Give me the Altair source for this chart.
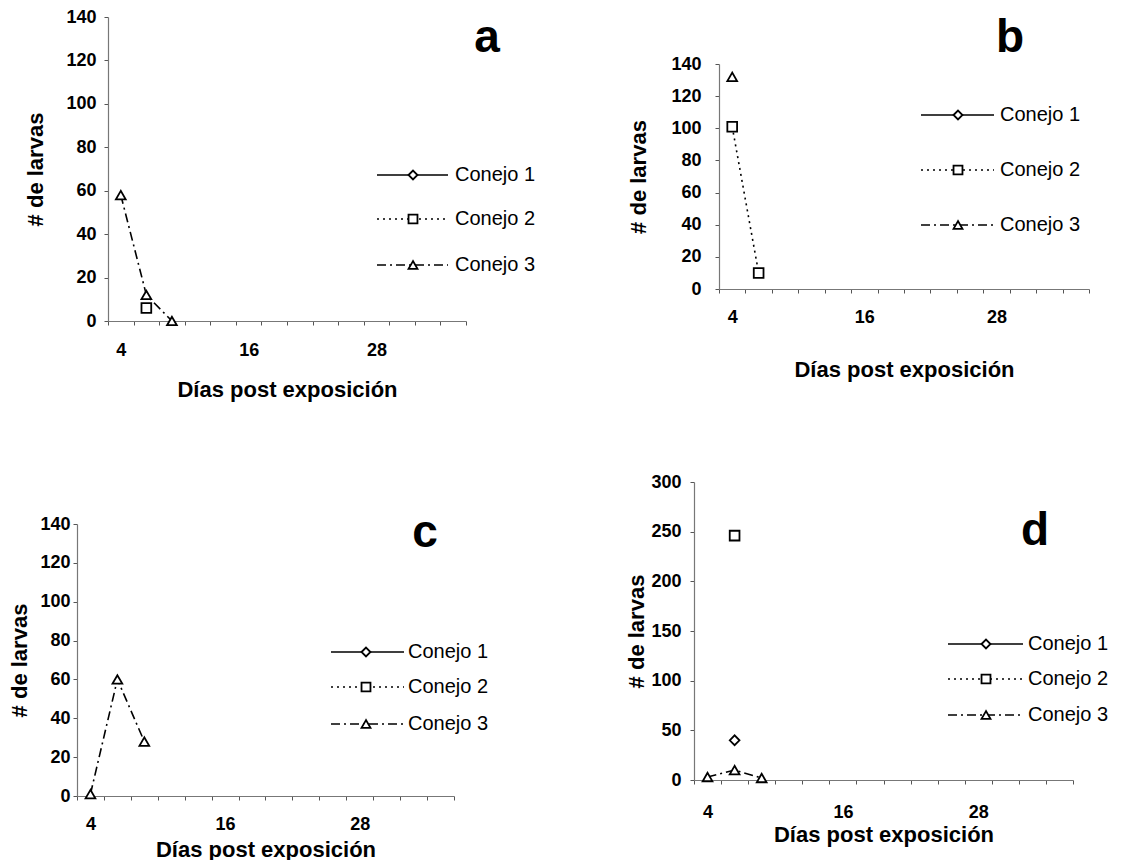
import altair as alt
import pandas as pd

# ---------------- data ----------------
series = ["Conejo 1", "Conejo 2", "Conejo 3"]
shapes = {"Conejo 1": "diamond", "Conejo 2": "square", "Conejo 3": "triangle-up"}
dashes = {"Conejo 1": [1, 0], "Conejo 2": [2, 4], "Conejo 3": [9, 4, 2, 4]}

categorias = list(range(1, 15))          # 14 sampling points on the category axis
etiquetas_x = {1: "4", 6: "16", 11: "28"}  # only these are labelled

# panel a
a_serie = ["Conejo 3", "Conejo 3", "Conejo 3", "Conejo 2"]
a_cat = [1, 2, 3, 2]
a_val = [58, 12, 0, 6]
# panel b
b_serie = ["Conejo 3", "Conejo 2", "Conejo 2"]
b_cat = [1, 1, 2]
b_val = [132, 101, 10]
# panel c
c_serie = ["Conejo 3", "Conejo 3", "Conejo 3"]
c_cat = [1, 2, 3]
c_val = [1, 60, 28]
# panel d
d_serie = ["Conejo 2", "Conejo 1", "Conejo 3", "Conejo 3", "Conejo 3"]
d_cat = [2, 2, 1, 2, 3]
d_val = [246, 40, 3, 10, 2]

FONT = "Liberation Sans"

label_expr = " : ".join(
    [f"datum.value == {k} ? '{v}'" for k, v in etiquetas_x.items()]
) + " : ''"


def panel(serie, cat, val, ymax, ystep, w, h, dx, dy, letter, letter_xy,
          leg_rows, leg_x, ylab_pad, ytitle_x, xlab_pad, xtitle_y):
    df = pd.DataFrame({"serie": serie, "cat": cat, "val": val})
    x_enc = alt.X(
        "cat:O",
        scale=alt.Scale(type="band", domain=categorias, paddingInner=0,
                        paddingOuter=0, range=[dx, dx + w]),
        bandPosition=0.5,
        axis=alt.Axis(
            title="Días post exposición", labelExpr=label_expr, labelOverlap=False,
            labelAngle=0, tickBand="extent", tickSize=4, labelPadding=xlab_pad,
            titleY=xtitle_y, titleX=dx + w / 2, titleBaseline="middle",
            titleFontSize=22,
        ),
    )
    y_enc = alt.Y(
        "val:Q",
        scale=alt.Scale(domain=[0, ymax], nice=False, zero=True,
                        range=[dy + h, dy]),
        axis=alt.Axis(
            values=list(range(0, ymax + 1, ystep)), grid=False, tickSize=4,
            labelPadding=ylab_pad, title="# de larvas", titleX=ytitle_x,
            titleY=dy + h / 2, titleBaseline="middle", titleFontSize=22,
            offset=-dx,
        ),
    )
    layers = []
    for s in series:
        sub = df[df.serie == s]
        if len(sub) == 0:
            continue
        base = alt.Chart(sub).encode(x=x_enc, y=y_enc)
        if len(sub) > 1:
            layers.append(base.mark_line(color="black", strokeWidth=1.6,
                                         strokeDash=dashes[s]))
        layers.append(base.mark_point(shape=shapes[s], filled=False, fill="white",
                                      color="black", strokeWidth=1.8,
                                      size=95, opacity=1))
    # legend drawn as marks
    one = pd.DataFrame({"t": [0]})
    lx0, lx1, mx, tx = leg_x
    for s, ry in zip(series, leg_rows):
        layers.append(alt.Chart(one).mark_rule(color="black", strokeWidth=1.6,
                                               strokeDash=dashes[s]).encode(
            x=alt.value(dx + lx0), x2=alt.value(dx + lx1), y=alt.value(dy + ry)))
        layers.append(alt.Chart(one).mark_point(shape=shapes[s], filled=False,
                                                fill="white", color="black",
                                                strokeWidth=1.8, size=80,
                                                opacity=1).encode(
            x=alt.value(dx + mx), y=alt.value(dy + ry)))
        layers.append(alt.Chart(one).mark_text(text=s, align="left", baseline="middle",
                                               font=FONT, fontSize=20,
                                               color="black").encode(
            x=alt.value(dx + tx), y=alt.value(dy + ry)))
    layers.append(alt.Chart(one).mark_text(text=letter, align="center",
                                           baseline="alphabetic", font=FONT,
                                           fontSize=46, fontWeight="bold",
                                           color="black").encode(
        x=alt.value(dx + letter_xy[0]), y=alt.value(dy + letter_xy[1])))
    return alt.layer(*layers).properties(width=dx + w, height=dy + h)


# plot areas (reference pixels):
# a: x 106-464, y 15-319 | b: x 717-1087, y 62-287
# c: x 75-452,  y 522-794 | d: x 692-1071, y 480-778
pa = panel(a_serie, a_cat, a_val, 140, 20, 358, 304, 31, 0, "a", (379, 35),
           (158, 202, 248), (269, 340, 305, 347), 8, -73, 16, 68)
pb = panel(b_serie, b_cat, b_val, 140, 20, 370, 225, 25, 47, "b", (291, -12),
           (51, 106, 161), (202, 275, 239, 281), 14, -81, 15, 80)
pc = panel(c_serie, c_cat, c_val, 140, 20, 377, 272, 0, 42, "c", (348, 23),
           (128, 163, 200), (254, 327, 289, 331), 3, -58, 15, 53)
pd_ = panel(d_serie, d_cat, d_val, 300, 50, 379, 298, 0, 0, "d", (341, 63),
            (162, 197, 233), (254, 329, 292, 334), 9, -58, 19, 54)

chart = alt.concat(
    pa, pb, pc, pd_, columns=2, spacing=alt.RowColnumber(row=161, column=228),
    bounds="flush", align="each",
).properties(padding=0, background="white").configure_view(stroke=None).configure_axis(
    labelFont=FONT, titleFont=FONT, labelFontSize=18, labelFontWeight="bold",
    titleFontWeight="bold", labelColor="black", titleColor="black",
    domainColor="#777", tickColor="#555", domainWidth=1.2,
)

chart.save("out.html", embed_options={"renderer": "svg", "actions": False})
